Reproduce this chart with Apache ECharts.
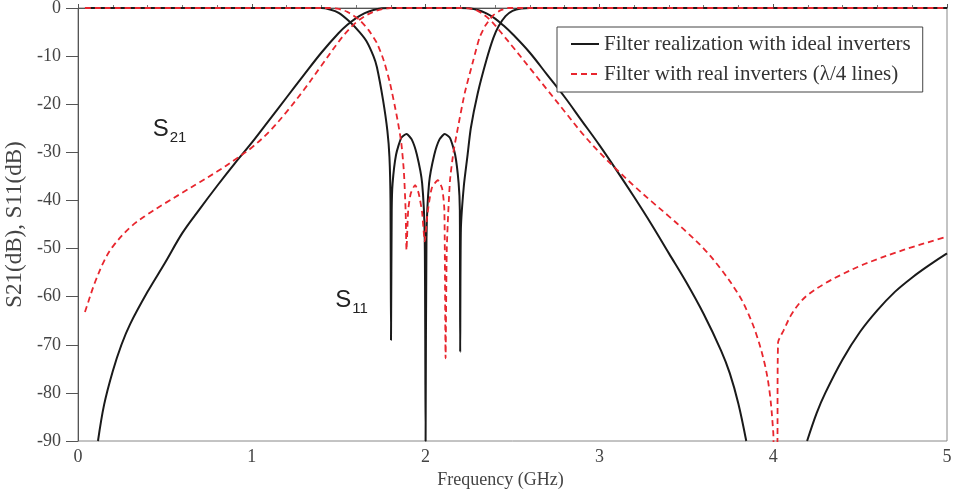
<!DOCTYPE html>
<html>
<head>
<meta charset="utf-8">
<script src="https://cdn.jsdelivr.net/npm/echarts@6/dist/echarts.min.js"></script>
<style>
html,body{margin:0;padding:0;background:#fff;}
#chart{width:954px;height:495px;}
</style>
</head>
<body>
<div id="chart"></div>
<script>
// ---- data (frequency GHz, dB) ----
const xTicks = [0, 1, 2, 3, 4, 5];
const yTicks = [-90, -80, -70, -60, -50, -40, -30, -20, -10, 0];

const idealS21 = [
  [0.115,-90],[0.15,-82.5],[0.2,-75.5],[0.25,-70],[0.3,-65.7],[0.4,-59],[0.5,-53],[0.6,-46.8],
  [0.7,-41.8],[0.8,-37],[0.9,-32.4],[1.0,-28.0],[1.1,-23.3],[1.2,-18.6],[1.3,-13.9],[1.4,-9.3],
  [1.5,-5.2],[1.55,-3.5],[1.6,-2.1],[1.65,-1.05],[1.7,-0.4],[1.75,-0.07],[1.8,0],
  [2.2,0],[2.25,-0.07],[2.3,-0.4],[2.35,-1.1],[2.4,-2.2],[2.45,-3.7],[2.5,-5.4],[2.6,-9.3],
  [2.7,-13.9],[2.8,-18.5],[2.9,-23.5],[3.0,-28.5],[3.1,-33.8],[3.2,-39.3],[3.3,-45.0],
  [3.4,-51],[3.5,-57],[3.6,-63.6],[3.7,-71.2],[3.75,-75.9],[3.8,-82.3],[3.845,-90],[4.0,'-'],
  [4.195,-90],[4.25,-84.2],[4.3,-80],[4.4,-73],[4.5,-67.3],[4.6,-62.8],[4.7,-59],[4.8,-56],
  [4.9,-53.4],[5.0,-51]
];
const idealS11 = [
  [0.04,0],[1.40,0],[1.45,-0.3],[1.50,-1.0],[1.565,-2.9],[1.62,-5.0],[1.66,-6.9],[1.70,-10],
  [1.72,-12.3],[1.755,-19.1],[1.78,-25.5],[1.792,-31],[1.798,-40],[1.801,-69],[1.805,-42],
  [1.81,-36.5],[1.83,-30.5],[1.86,-27],[1.89,-26.2],[1.92,-27.3],[1.95,-30.5],[1.98,-36.4],
  [1.995,-48],[2.0,-90],[2.005,-48],[2.02,-36.4],[2.05,-30.5],[2.08,-27.3],[2.11,-26.2],
  [2.14,-27],[2.17,-30.5],[2.19,-36.4],[2.197,-42],[2.199,-71.5],[2.203,-46],[2.22,-37],
  [2.24,-31],[2.26,-25],[2.30,-17.7],[2.35,-10.8],[2.39,-6.2],[2.42,-3.8],[2.46,-1.7],
  [2.50,-0.6],[2.55,-0.1],[2.60,0],[5.0,0]
];
const realS21 = [
  [0.04,-63.2],[0.06,-61],[0.08,-58.8],[0.1,-56.8],[0.15,-52.6],[0.2,-49.6],[0.3,-45.6],
  [0.4,-42.9],[0.5,-40.6],[0.6,-38.4],[0.7,-36.2],[0.8,-34],[0.9,-31.6],[1.0,-29.0],
  [1.1,-25.7],[1.2,-21.6],[1.3,-17.0],[1.4,-12.0],[1.5,-7.0],[1.55,-4.8],[1.6,-3.0],
  [1.65,-1.7],[1.7,-0.8],[1.75,-0.25],[1.8,0],
  [2.22,0],[2.26,-0.15],[2.3,-0.6],[2.35,-1.8],[2.4,-3.6],[2.45,-5.8],[2.5,-8],[2.6,-12.5],
  [2.7,-17],[2.8,-21.5],[2.9,-26],[3.0,-30],[3.1,-33.6],[3.2,-37],[3.3,-40.2],[3.4,-43.3],
  [3.5,-46.5],[3.6,-50],[3.7,-54.3],[3.8,-59.5],[3.85,-63],[3.9,-67.5],[3.95,-73.8],
  [3.98,-80],[4.0,-88],[4.006,-92],[4.022,-92],[4.028,-69.5],[4.04,-68.4],[4.06,-67],
  [4.1,-64],[4.15,-61.4],[4.2,-59.6],[4.3,-57.2],[4.4,-55.3],[4.5,-53.6],[4.6,-52.2],
  [4.7,-50.9],[4.8,-49.7],[4.9,-48.6],[5.0,-47.5]
];
const realS11 = [
  [0.04,0],[1.45,0],[1.50,-0.2],[1.55,-0.8],[1.62,-2.5],[1.67,-4.5],[1.72,-7.3],[1.76,-11],
  [1.795,-15.6],[1.835,-22.6],[1.86,-28],[1.875,-34],[1.885,-42],[1.89,-50.3],[1.90,-42],
  [1.915,-38.5],[1.94,-36.8],[1.96,-38.5],[1.98,-42.5],[1.995,-48.5],[2.01,-43],[2.035,-37.5],
  [2.07,-35.8],[2.095,-37.5],[2.108,-42],[2.115,-72.8],[2.122,-50],[2.14,-36],[2.16,-30],
  [2.18,-26],[2.225,-17.7],[2.275,-10.8],[2.31,-6.2],[2.345,-3.6],[2.39,-1.5],[2.43,-0.5],
  [2.48,0],[5.0,0]
];
const seriesNames = ['Filter realization with ideal inverters', 'Filter with real inverters (\u03BB/4 lines)'];
const annotations = [
  {main: 'S', sub: '21', at: [0.43, -25.2]},
  {main: 'S', sub: '11', at: [1.48, -60.7]}
];

const chart = echarts.init(document.getElementById('chart'), null, {renderer: 'canvas'});
const serif = '"Liberation Serif", "Times New Roman", serif';
const black = '#1a1a1a';
const red = '#e8262e';

function lineSeries(name, data, color, dashed, smooth, z) {
  return {
    name: name, type: 'line', data: data, symbol: 'none', smooth: smooth,
    connectNulls: false, clip: true, z: z,
    lineStyle: {color: color, width: dashed ? 1.8 : 2, type: dashed ? [6, 4] : 'solid'},
    itemStyle: {color: color}
  };
}

chart.setOption({
  animation: false,
  backgroundColor: '#fff',
  grid: {left: 78, right: 7, top: 8, bottom: 54, containLabel: false, outerBoundsMode: 'none',
    show: true, borderColor: '#888', borderWidth: 1},
  legend: {
    orient: 'vertical', left: 557, top: 27, data: seriesNames,
    itemWidth: 28, itemHeight: 12, itemGap: 6,
    padding: [5, 12, 6, 13],
    itemStyle: {opacity: 0},
    borderColor: '#444', borderWidth: 1, backgroundColor: '#fff',
    textStyle: {fontFamily: serif, fontSize: 21, color: '#333', lineHeight: 24}
  },
  xAxis: {
    type: 'value', min: xTicks[0], max: xTicks[xTicks.length - 1], interval: 1,
    name: 'Frequency (GHz)', nameLocation: 'middle', nameGap: 26,
    nameTextStyle: {fontFamily: serif, fontSize: 18, color: '#444', padding: [0, 24, 0, 0]},
    axisLine: {show: true, lineStyle: {color: '#555', width: 1}},
    axisTick: {show: true, inside: true, length: 4, lineStyle: {color: '#555'}},
    minorTick: {show: true, splitNumber: 5, length: 3, lineStyle: {color: '#777'}},
    splitLine: {show: false},
    axisLabel: {fontFamily: serif, fontSize: 18, color: '#444', margin: 7,
      formatter: v => xTicks.includes(v) ? String(v) : ''}
  },
  yAxis: {
    type: 'value', min: yTicks[0], max: yTicks[yTicks.length - 1], interval: 10,
    name: 'S21(dB), S11(dB)', nameLocation: 'middle', nameGap: 51, nameRotate: 90,
    nameTextStyle: {fontFamily: serif, fontSize: 23, color: '#444'},
    axisLine: {show: true, lineStyle: {color: '#555', width: 1}},
    axisTick: {show: true, inside: false, length: 12, lineStyle: {color: '#555'}},
    splitLine: {show: false},
    axisLabel: {fontFamily: serif, fontSize: 18, color: '#444', margin: 17,
      formatter: v => yTicks.includes(v) ? String(v) : ''}
  },
  series: [
    lineSeries(seriesNames[0], idealS21, black, false, 0.35, 3),
    lineSeries(seriesNames[0], idealS11, black, false, 0.2, 3),
    lineSeries(seriesNames[1], realS21, red, true, 0.35, 4),
    lineSeries(seriesNames[1], realS11, red, true, 0.2, 4)
  ]
});

// annotation texts placed at data coordinates
const g = [];
annotations.forEach(a => {
  const p = chart.convertToPixel({gridIndex: 0}, a.at);
  g.push({type: 'text', x: p[0], y: p[1], z: 10,
    style: {text: a.main, font: '24px "Liberation Sans", Arial, sans-serif', fill: '#222',
      textAlign: 'left', textVerticalAlign: 'middle'}});
  g.push({type: 'text', x: p[0] + 17, y: p[1] + 9, z: 10,
    style: {text: a.sub, font: '15px "Liberation Sans", Arial, sans-serif', fill: '#222',
      textAlign: 'left', textVerticalAlign: 'middle'}});
});
chart.setOption({graphic: g});
</script>
</body>
</html>
